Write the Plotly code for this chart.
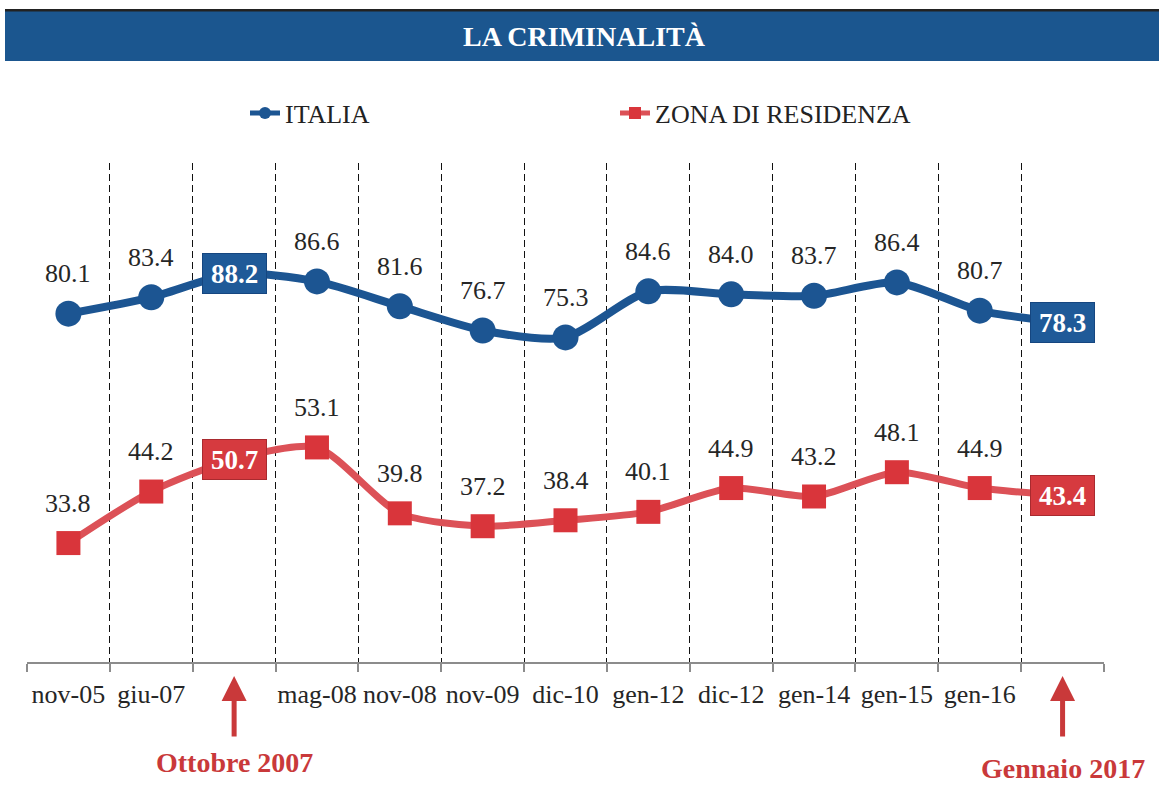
import plotly.graph_objects as go

# dati
categories = ["nov-05", "giu-07", "ott-07", "mag-08", "nov-08", "nov-09", "dic-10",
              "gen-12", "dic-12", "gen-14", "gen-15", "gen-16", "gen-17"]
tick_labels = ["nov-05", "giu-07", "", "mag-08", "nov-08", "nov-09", "dic-10",
               "gen-12", "dic-12", "gen-14", "gen-15", "gen-16", ""]
italia = [80.1, 83.4, 88.2, 86.6, 81.6, 76.7, 75.3, 84.6, 84.0, 83.7, 86.4, 80.7, 78.3]
zona = [33.8, 44.2, 50.7, 53.1, 39.8, 37.2, 38.4, 40.1, 44.9, 43.2, 48.1, 44.9, 43.4]
highlight_idx = [2, 12]
highlight_text = ["Ottobre 2007", "Gennaio 2017"]

SERIF = "Liberation Serif, Times New Roman, serif"
BLUE = "#1c5592"
RED_LINE = "#dc5157"
RED_MK = "#d9353b"
ARROW_RED = "#c9393a"

W, H = 1159, 796
L, R, T, B = 27, 55, 163, 134
PH = H - T - B


def py(p):
    # pixel verticale -> coordinata paper
    return (H - B - p) / PH


def px(p):
    return (p - L) / (W - L - R)


x = list(range(len(categories)))

fig = go.Figure()
fig.add_trace(go.Scatter(
    x=x, y=italia, name="ITALIA", mode="lines+markers",
    line=dict(color=BLUE, width=8, shape="spline", smoothing=0.7),
    marker=dict(symbol="circle", size=26, color=BLUE)))
fig.add_trace(go.Scatter(
    x=x, y=zona, name="ZONA DI RESIDENZA", mode="lines+markers",
    line=dict(color=RED_LINE, width=7, shape="spline", smoothing=0.7),
    marker=dict(symbol="square", size=24, color=RED_MK)))

ann = []
# etichette dati
for serie in (italia, zona):
    for i, v in enumerate(serie):
        if i in highlight_idx:
            continue
        ann.append(dict(x=i, y=v, xref="x", yref="y", text=f"{v:.1f}",
                        showarrow=False, yshift=40,
                        font=dict(family=SERIF, size=26, color="#262626")))

# riquadri evidenziati
for serie, bg, bd in ((italia, "#1f5a98", "#154680"), (zona, "#d63a3f", "#a92a2f")):
    for i in highlight_idx:
        ann.append(dict(x=i, y=serie[i], xref="x", yref="y", text=f"<b>{serie[i]:.1f}</b>",
                        showarrow=False, bgcolor=bg, bordercolor=bd, borderwidth=1,
                        borderpad=2, width=59, height=35,
                        font=dict(family=SERIF, size=27, color="white")))

# frecce e date
for i, txt, ty in zip(highlight_idx, highlight_text, (762, 768)):
    ann.append(dict(x=i, y=py(676), xref="x", yref="paper", text="", showarrow=True,
                    ax=0, ay=62, arrowhead=2, arrowsize=1.0, arrowwidth=5,
                    arrowcolor=ARROW_RED))
    ann.append(dict(x=i, y=py(ty), xref="x", yref="paper", text=f"<b>{txt}</b>",
                    xanchor="center", yanchor="middle", showarrow=False,
                    font=dict(family=SERIF, size=28, color=ARROW_RED)))

# titolo
ann.append(dict(x=px(584), y=py(36), xref="paper", yref="paper",
                xanchor="center", yanchor="middle",
                text="<b>LA CRIMINALITÀ</b>", showarrow=False,
                font=dict(family=SERIF, size=28, color="white")))

shapes = [
    dict(type="rect", xref="paper", yref="paper", x0=px(5), x1=px(1165),
         y0=py(61), y1=py(9), fillcolor="#222222", line_width=0, layer="below"),
    dict(type="rect", xref="paper", yref="paper", x0=px(5), x1=px(1165),
         y0=py(61), y1=py(11.5), fillcolor="#1b568f", line_width=0, layer="below"),
]

fig.update_layout(
    width=W, height=H,
    margin=dict(l=L, r=R, t=T, b=B),
    paper_bgcolor="white", plot_bgcolor="white",
    font=dict(family=SERIF, size=26, color="#262626"),
    showlegend=True,
    legend=dict(orientation="h", x=px(245), y=py(113), xanchor="left", yanchor="middle",
                entrywidth=325, entrywidthmode="pixels", itemsizing="constant",
                font=dict(family=SERIF, size=26, color="#222222"),
                bgcolor="rgba(0,0,0,0)"),
    annotations=ann,
    shapes=shapes,
    xaxis=dict(
        range=[-0.5, len(categories) - 0.5],
        tickmode="array", tickvals=x, ticktext=tick_labels,
        ticks="", showgrid=False, zeroline=False,
        showline=True, linecolor="#8c8c8c", linewidth=1.5,
        ticklabelstandoff=8,
        tickfont=dict(family=SERIF, size=26, color="#262626"),
        minor=dict(tickmode="linear", tick0=-0.5, dtick=1,
                   showgrid=True, gridcolor="#111111", gridwidth=1.3, griddash="7px,4px",
                   ticks="outside", ticklen=8, tickcolor="#8c8c8c", tickwidth=1.5),
    ),
    yaxis=dict(range=[9.8, 110.5], visible=False, showgrid=False, zeroline=False),
)

fig.write_html("out.html", config={"displayModeBar": False},
               post_script="document.body.style.margin='0';")
